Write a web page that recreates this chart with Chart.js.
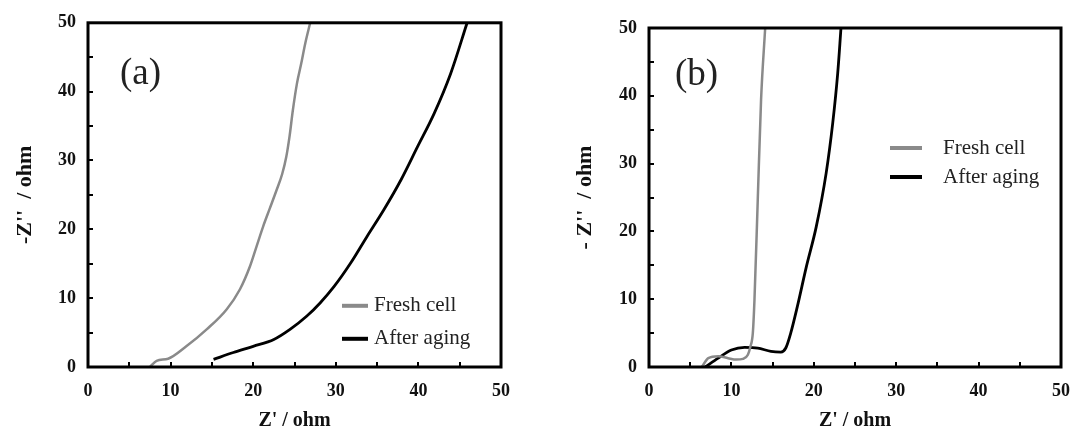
<!DOCTYPE html>
<html>
<head>
<meta charset="utf-8">
<script src="https://cdn.jsdelivr.net/npm/chart.js@4.4.1/dist/chart.umd.min.js"></script>
<style>
  html, body { margin: 0; padding: 0; background: #fff; }
  #wrap { position: relative; width: 1084px; height: 437px; }
  .panel { position: absolute; top: 0; height: 437px; }
  #pa { left: 0; width: 540px; }
  #pb { left: 560px; width: 524px; }
</style>
</head>
<body>
<div id="wrap">
  <div class="panel" id="pa"><canvas id="chartA"></canvas></div>
  <div class="panel" id="pb"><canvas id="chartB"></canvas></div>
</div>
<script>
// valeurs (Z' , -Z'')
let freshA_x = [7.5, 8.3, 9.7, 11.9, 14.4, 16.8, 18.4, 19.6, 20.4, 21.2, 22.0, 22.8, 23.5, 24.0, 24.4, 24.8, 25.3, 25.8, 26.3, 26.9];
let freshA_y = [0, 0.9, 1.2, 3.0, 5.5, 8.4, 11.3, 14.6, 17.5, 20.4, 23.0, 25.6, 28.0, 30.5, 33.5, 37.3, 41.2, 44.0, 47, 50];
let agedA_x = [15.2, 17.6, 20, 22.5, 24.5, 26.5, 28.1, 29.8, 31.8, 33.8, 35.8, 37.9, 39.9, 41.9, 43.9, 45.9];
let agedA_y = [1.1, 2.1, 3, 4, 5.5, 7.4, 9.3, 11.7, 15.1, 19, 22.8, 27.2, 32, 36.8, 42.6, 50];

let freshB_x = [6.4, 7.2, 8.4, 9.6, 10.6, 11.4, 12.0, 12.3, 12.6, 12.8, 13.2, 13.6, 14.1];
let freshB_y = [0, 1.3, 1.6, 1.3, 1.1, 1.2, 1.8, 3.0, 5, 9.9, 24.7, 39.4, 50];
let agedB_x = [6.8, 8.4, 10, 11.6, 13.2, 14.8, 16, 16.6, 17.2, 18, 19.1, 20.3, 21.5, 22.3, 22.9, 23.3];
let agedB_y = [0, 1.3, 2.5, 2.9, 2.8, 2.3, 2.2, 2.8, 5.0, 8.9, 14.8, 20.7, 28.6, 36, 43.3, 50];

let seriesLabels = ['Fresh cell', 'After aging'];
let xTicks = [0, 10, 20, 30, 40, 50];
let yTicks = [0, 10, 20, 30, 40, 50];

function toPoints(xs, ys) {
    return xs.map((x, i) => ({ x: x, y: ys[i] }));
}

// cadre, graduations internes, étiquette du panneau et légende
let framePlugin = {
    id: 'frame',
    afterDraw(chart, args, opts) {
        let ctx = chart.ctx;
        let a = chart.chartArea;
        let sx = chart.scales.x, sy = chart.scales.y;
        ctx.save();
        ctx.strokeStyle = '#000';
        ctx.lineWidth = 2;
        sx.ticks.forEach(t => {
            let px = Math.round(sx.getPixelForValue(t.value));
            ctx.beginPath(); ctx.moveTo(px, a.bottom); ctx.lineTo(px, a.bottom - 5); ctx.stroke();
        });
        sy.ticks.forEach(t => {
            let py = Math.round(sy.getPixelForValue(t.value));
            ctx.beginPath(); ctx.moveTo(a.left, py); ctx.lineTo(a.left + 5, py); ctx.stroke();
        });
        ctx.lineWidth = 3;
        ctx.strokeRect(a.left, a.top, a.right - a.left, a.bottom - a.top);

        ctx.fillStyle = '#222';
        ctx.font = '37px "Liberation Serif"';
        ctx.textBaseline = 'middle';
        ctx.fillText(opts.tag, a.left + opts.tagX, a.top + opts.tagY);

        ctx.font = '21px "Liberation Serif"';
        chart.data.datasets.forEach((ds, i) => {
            let y = a.top + opts.legY[i];
            ctx.strokeStyle = ds.borderColor;
            ctx.lineWidth = 4;
            ctx.beginPath();
            ctx.moveTo(a.left + opts.legX0, y);
            ctx.lineTo(a.left + opts.legX1, y);
            ctx.stroke();
            ctx.fillText(ds.label, a.left + opts.legText, y);
        });
        ctx.restore();
    }
};

function makeChart(id, fresh, aged, box, frameOpts) {
    let tickFont = { family: '"Liberation Serif"', size: 18, weight: 'bold' };
    let titleFont = { family: '"Liberation Serif"', size: 20, weight: 'bold' };
    let yTitleFont = { family: '"Liberation Serif"', size: 22, weight: 'bold' };
    return new Chart(document.getElementById(id), {
        type: 'scatter',
        data: {
            datasets: [{
                label: seriesLabels[0],
                data: fresh,
                showLine: true,
                borderColor: '#8a8a8a',
                borderWidth: 2.5,
                pointRadius: 0,
                cubicInterpolationMode: 'monotone'
            }, {
                label: seriesLabels[1],
                data: aged,
                showLine: true,
                borderColor: '#000',
                borderWidth: 2.8,
                pointRadius: 0,
                cubicInterpolationMode: 'monotone'
            }]
        },
        options: {
            responsive: true,
            maintainAspectRatio: false,
            animation: false,
            layout: { padding: { top: box.top, right: box.right, left: 6 } },
            plugins: { legend: { display: false }, tooltip: { enabled: false }, frame: frameOpts },
            scales: {
                x: {
                    min: 0, max: 50,
                    afterFit: s => { s.height = 70; },
                    grid: { display: false, drawTicks: false },
                    border: { display: false },
                    ticks: {
                        stepSize: 5, padding: 14, color: '#111', font: tickFont, maxRotation: 0,
                        callback: v => xTicks.includes(v) ? v : ''
                    },
                    title: { display: true, text: "Z' / ohm", color: '#111', font: titleFont, padding: { top: 0, bottom: 4 } }
                },
                y: {
                    min: 0, max: 50,
                    afterFit: s => { s.width = box.left - 6; },
                    grid: { display: false, drawTicks: false },
                    border: { display: false },
                    ticks: {
                        stepSize: 5, padding: 12, color: '#111', font: tickFont,
                        callback: v => yTicks.includes(v) ? v : ''
                    },
                    title: { display: true, text: frameOpts.ytitle, color: '#111', font: yTitleFont, padding: { top: 6, bottom: 0 } }
                }
            }
        },
        plugins: [framePlugin]
    });
}

makeChart('chartA', toPoints(freshA_x, freshA_y), toPoints(agedA_x, agedA_y),
    { left: 88, top: 22, right: 39 },
    { tag: '(a)', tagX: 32, tagY: 51, legX0: 254, legX1: 280, legText: 286, legY: [283, 316], ytitle: "-Z''  / ohm" });

makeChart('chartB', toPoints(freshB_x, freshB_y), toPoints(agedB_x, agedB_y),
    { left: 89, top: 28, right: 15 },
    { tag: '(b)', tagX: 26, tagY: 47, legX0: 241, legX1: 273, legText: 294, legY: [120, 149], ytitle: "- Z''  / ohm" });
</script>
</body>
</html>
